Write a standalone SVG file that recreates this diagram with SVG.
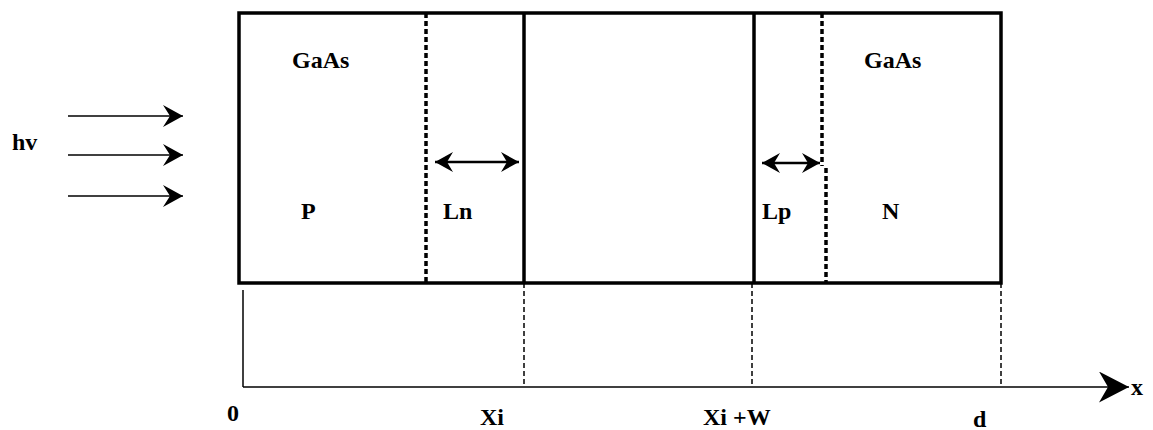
<svg xmlns="http://www.w3.org/2000/svg" width="1153" height="430" viewBox="0 0 1153 430">
<defs>
<marker id="ah" viewBox="0 0 20 22" refX="20" refY="11" markerWidth="20" markerHeight="22" markerUnits="userSpaceOnUse" orient="auto-start-reverse">
<path d="M0,0 L20,11 L0,22 L7,11 Z" fill="#000"/>
</marker>
<marker id="dbl" viewBox="0 0 18 20" refX="18" refY="10" markerWidth="18" markerHeight="20" markerUnits="userSpaceOnUse" orient="auto-start-reverse">
<path d="M0,0 L18,10 L0,20 L6,10 Z" fill="#000"/>
</marker>
<marker id="big" viewBox="0 0 30 31" refX="30" refY="15.5" markerWidth="30" markerHeight="31" markerUnits="userSpaceOnUse" orient="auto">
<path d="M0,0 L30,15.5 L0,31 L9,15.5 Z" fill="#000"/>
</marker>
<style>
text{font-family:"Liberation Serif",serif;font-weight:bold;font-size:24px;fill:#000}
.thick{stroke:#000;stroke-width:3.5;fill:none}
.dot{stroke:#000;stroke-width:3.5;stroke-dasharray:5 3;fill:none}
.dash{stroke:#000;stroke-width:1.5;stroke-dasharray:5 3;fill:none}
.thin{stroke:#000;stroke-width:1.5;fill:none}
</style>
</defs>
<g id="device">
<rect x="239" y="13" width="762" height="270" class="thick"/>
<line x1="426" y1="13" x2="426" y2="283" class="dot"/>
<line x1="524" y1="13" x2="524" y2="283" class="thick"/>
<line x1="754" y1="13" x2="754" y2="283" class="thick"/>
<line x1="822" y1="13" x2="822" y2="166" class="dot"/>
<line x1="826" y1="168" x2="826" y2="283" class="dot"/>
</g>
<g id="labels">
<text x="292" y="68">GaAs</text>
<text x="864" y="68">GaAs</text>
<text x="301" y="219">P</text>
<text x="443" y="219">Ln</text>
<text x="762" y="219">Lp</text>
<text x="882" y="219">N</text>
<text x="12" y="150">hv</text>
<text x="227" y="421">0</text>
<text x="480" y="425">Xi</text>
<text x="703" y="425">Xi +W</text>
<text x="973" y="427">d</text>
<text x="1131" y="395">x</text>
</g>
<g id="connectors">
<line x1="68" y1="116" x2="183" y2="116" class="thin" marker-end="url(#ah)"/>
<line x1="68" y1="155" x2="183" y2="155" class="thin" marker-end="url(#ah)"/>
<line x1="68" y1="196" x2="183" y2="196" class="thin" marker-end="url(#ah)"/>
<line x1="435" y1="162" x2="519" y2="162" stroke="#000" stroke-width="2.5" marker-start="url(#dbl)" marker-end="url(#dbl)"/>
<line x1="762" y1="163" x2="820" y2="163" stroke="#000" stroke-width="2.5" marker-start="url(#dbl)" marker-end="url(#dbl)"/>
<line x1="243" y1="290" x2="243" y2="387" class="thin"/>
<line x1="243" y1="387" x2="1129" y2="387" class="thin" marker-end="url(#big)"/>
<line x1="524" y1="283" x2="524" y2="387" class="dash"/>
<line x1="752" y1="283" x2="752" y2="387" class="dash"/>
<line x1="1001" y1="283" x2="1001" y2="387" class="dash"/>
</g>
</svg>
